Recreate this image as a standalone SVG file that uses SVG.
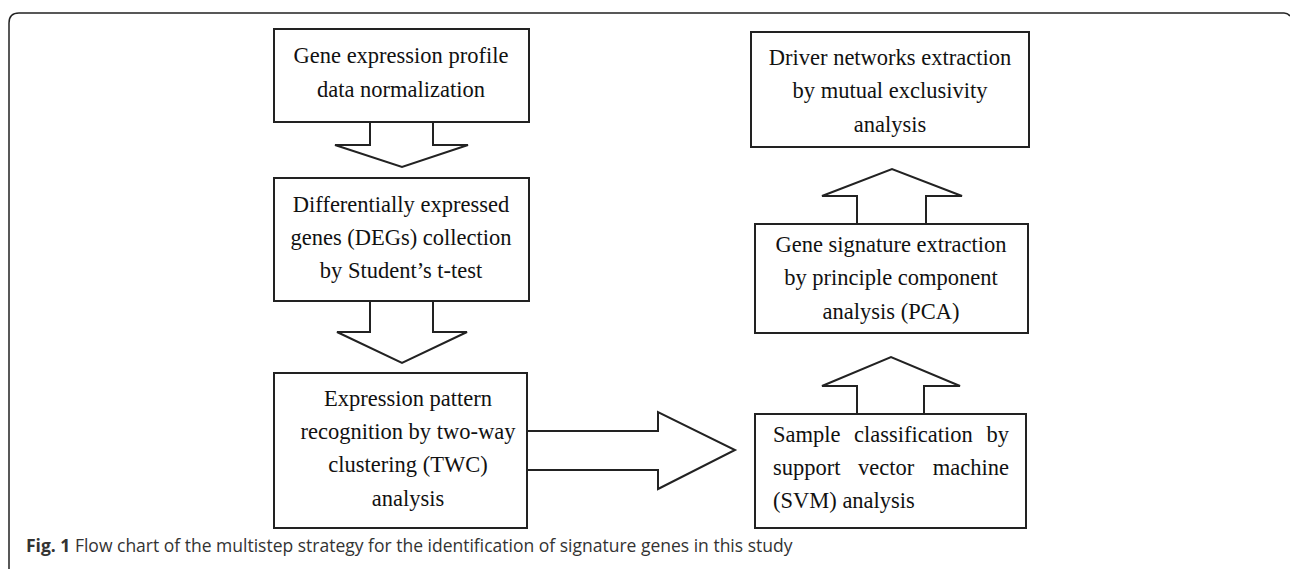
<svg xmlns="http://www.w3.org/2000/svg" width="1290" height="569" viewBox="0 0 1290 569">
<style>
.box{fill:#fff;stroke:#222;stroke-width:2}
.arr{fill:#fff;stroke:#222;stroke-width:2;stroke-linejoin:miter}
.t{font-family:"Liberation Serif","Times New Roman",serif;font-size:22.5px;fill:#111;text-anchor:middle}
.tl{font-family:"Liberation Serif","Times New Roman",serif;font-size:22.5px;fill:#111}
.cap{font-family:"Open Sans","Noto Sans",sans-serif;font-size:17.5px;fill:#333}
</style>
<rect width="1290" height="569" fill="#fff"/>
<path d="M9,569 V23 Q9,13 19,13 H1284 Q1288,13 1290,16" fill="none" stroke="#222" stroke-width="1.5"/>
<g id="connectors">
<path class="arr" d="M370,122 V145 H335 L402,167 L468,145 H433 V122"/>
<path class="arr" d="M370,301 V332 H337 L402,363 L467,332 H433 V301"/>
<path class="arr" d="M527,431 H658 V412 L735,450 L658,489 V470 H527"/>
<path class="arr" d="M857,414 V386 H822 L891,357 L960,386 H924 V414"/>
<path class="arr" d="M857,224 V196 H822 L892,169 L962,196 H926 V224"/>
</g>
<g id="n1"><rect class="box" x="274" y="29" width="255" height="93"/>
<text class="t" x="401" y="63">Gene expression profile</text>
<text class="t" x="401" y="97">data normalization</text></g>
<g id="n2"><rect class="box" x="274" y="178" width="255" height="123"/>
<text class="t" x="401" y="212">Differentially expressed</text>
<text class="t" x="401" y="245">genes (DEGs) collection</text>
<text class="t" x="401" y="278">by Student’s t-test</text></g>
<g id="n3"><rect class="box" x="274" y="373" width="253" height="155"/>
<text class="t" x="408" y="406">Expression pattern</text>
<text class="t" x="408" y="439">recognition by two-way</text>
<text class="t" x="408" y="472">clustering (TWC)</text>
<text class="t" x="408" y="506">analysis</text></g>
<g id="n4"><rect class="box" x="755" y="414" width="271" height="114"/>
<text class="tl" x="773" y="442">Sample</text>
<text class="tl" x="854" y="442">classification</text>
<text class="tl" x="1009" y="442" text-anchor="end">by</text>
<text class="tl" x="773" y="475">support</text>
<text class="tl" x="858" y="475">vector</text>
<text class="tl" x="1009" y="475" text-anchor="end">machine</text>
<text class="tl" x="773" y="508">(SVM) analysis</text></g>
<g id="n5"><rect class="box" x="755" y="224" width="273" height="109"/>
<text class="t" x="891" y="252">Gene signature extraction</text>
<text class="t" x="891" y="285">by principle component</text>
<text class="t" x="891" y="319">analysis (PCA)</text></g>
<g id="n6"><rect class="box" x="751" y="32" width="278" height="115"/>
<text class="t" x="890" y="65">Driver networks extraction</text>
<text class="t" x="890" y="98">by mutual exclusivity</text>
<text class="t" x="890" y="132">analysis</text></g>
<text class="cap" x="26" y="552"><tspan font-weight="bold">Fig. 1</tspan> Flow chart of the multistep strategy for the identification of signature genes in this study</text>
</svg>
